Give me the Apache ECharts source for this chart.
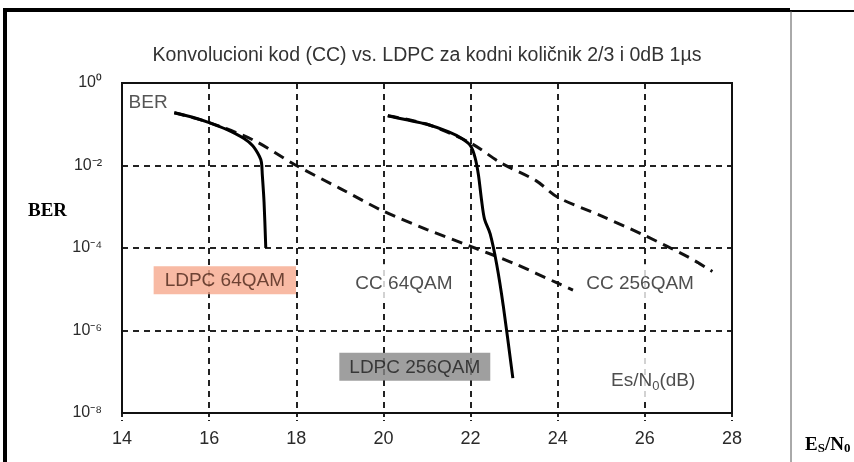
<!DOCTYPE html>
<html><head><meta charset="utf-8">
<script src="https://cdn.jsdelivr.net/npm/echarts@6/dist/echarts.min.js"></script>
<style>html,body{margin:0;padding:0;background:#fff}#c{width:854px;height:462px}</style>
</head><body><div id="c"></div>
<script>
// x ticks (Es/N0 dB)
const xTicks = [14, 16, 18, 20, 22, 24, 26, 28];
// exponents of BER ticks
const yExponents = [0, -2, -4, -6, -8];

// LDPC 64QAM (solid)
const ldpc64X = [15.2, 15.6, 16.0, 16.4, 16.8, 17.0, 17.15, 17.2, 17.22, 17.26, 17.3];
const ldpc64Y = [0.19, 0.15, 0.11, 0.075, 0.045, 0.030, 0.017, 0.012, 0.006, 0.0013, 0.0001];

// CC 64QAM (dashed)
const cc64X = [15.2, 16.0, 17.0, 18.0, 19.0, 20.0, 21.0, 22.0, 23.0, 24.0, 24.35];
const cc64Y = [0.19, 0.11, 0.042, 0.010, 0.0028, 0.00078, 0.00028, 0.00011, 0.000042, 0.000014, 0.0000095];

// LDPC 256QAM (solid)
const ldpc256X = [20.1, 20.5, 21.0, 21.5, 21.8, 22.0, 22.1, 22.18, 22.25, 22.32, 22.45, 22.6, 22.75, 22.97];
const ldpc256Y = [0.16, 0.13, 0.10, 0.065, 0.045, 0.030, 0.016, 0.006, 0.0015, 0.0005, 0.00022, 0.00004, 0.000004, 0.00000007];

// CC 256QAM (dashed)
const cc256X = [20.1, 21.0, 22.0, 22.7, 23.5, 24.0, 25.0, 26.0, 27.0, 27.55];
const cc256Y = [0.16, 0.10, 0.035, 0.0115, 0.0043, 0.0017, 0.0006, 0.0002, 0.00006, 0.000027];

// annotation labels [x, BER, text, style]
const notes = [
  [14.6, 0.33, 'BER', 'plain'],
  [16.36, 0.0000166, 'LDPC 64QAM', 'salmon'],
  [20.47, 0.0000141, 'CC 64QAM', 'white'],
  [25.89, 0.0000141, 'CC 256QAM', 'white'],
  [20.72, 0.000000132, 'LDPC 256QAM', 'gray'],
  [26.19, 0.000000063, '{a|Es/N}{s|0}{a|(dB)}', 'white']
];

const title = 'Konvolucioni kod (CC) vs. LDPC za kodni količnik 2/3 i 0dB 1µs';

const FONT = '"Liberation Sans", Arial, sans-serif';
const sup = {'0':'⁰','-':'⁻','2':'²','4':'⁴','6':'⁶','8':'⁸'};
function supText(e){ return String(e).split('').map(ch => sup[ch] || ch).join(''); }

const zip = (xs, ys) => xs.map((x, i) => [x, ys[i]]);

const noteStyles = {
  plain: {color: '#2a2a2a'},
  white: {color: '#222', backgroundColor: '#fff', padding: [10, 4, 9, 4]},
  salmon: {color: '#4a2418', backgroundColor: '#f6a98d', padding: [5, 11, 4, 11]},
  gray: {color: '#1e1e1e', backgroundColor: '#878787', padding: [5, 10, 4, 10]}
};

const chart = echarts.init(document.getElementById('c'));
chart.setOption({
  animation: false,
  backgroundColor: '#fff',
  title: {
    text: title, left: 'center', top: 41,
    textStyle: {fontFamily: FONT, fontSize: 19.5, fontWeight: 'normal', color: '#333'}
  },
  grid: {left: 122, right: 122, top: 83, bottom: 49},
  xAxis: {
    type: 'value', min: 14, max: 28, interval: 2, z: 0,
    axisLine: {show: true, onZero: false, lineStyle: {color: '#111', width: 2}},
    axisTick: {show: true, length: 8, lineStyle: {color: '#222', width: 2, type: [4, 3]}},
    axisLabel: {fontFamily: FONT, fontSize: 18, color: '#2a2a2a', margin: 17},
    splitLine: {show: true, lineStyle: {color: '#222', width: 2, type: [6, 5]}}
  },
  yAxis: {
    type: 'log', logBase: 10, min: 1e-8, max: 1, interval: 2, z: 0,
    axisLine: {show: true, lineStyle: {color: '#111', width: 2}},
    axisTick: {show: false},
    axisLabel: {
      fontFamily: FONT, fontSize: 16, color: '#2a2a2a', margin: 20,
      formatter: v => '10' + supText(Math.round(Math.log10(v)))
    },
    splitLine: {show: true, lineStyle: {color: '#222', width: 2, type: [6, 5]}}
  },
  graphic: [
    {type: 'rect', shape: {x: 122, y: 83, width: 610, height: 330}, style: {fill: 'none', stroke: '#111', lineWidth: 2}, z: 10},
    {type: 'line', shape: {x1: 5, y1: 10, x2: 790, y2: 10}, style: {stroke: '#000', lineWidth: 4}},
    {type: 'line', shape: {x1: 790, y1: 11, x2: 854, y2: 11}, style: {stroke: '#000', lineWidth: 2}},
    {type: 'line', shape: {x1: 5, y1: 8, x2: 5, y2: 462}, style: {stroke: '#000', lineWidth: 4}},
    {type: 'line', shape: {x1: 791, y1: 11, x2: 791, y2: 462}, style: {stroke: '#555', lineWidth: 1}},
    {type: 'text', left: 28, top: 202, style: {text: 'BER', fontFamily: '"Liberation Serif", "DejaVu Serif", serif', fontWeight: 'bold', fontSize: 19, fill: '#000'}},
    {type: 'text', left: 805, top: 436, style: {
      text: '{b|E}{s|S}{b|/N}{s|0}',
      rich: {
        b: {fontFamily: '"Liberation Serif", serif', fontWeight: 'bold', fontSize: 19, fill: '#000', verticalAlign: 'bottom'},
        s: {fontFamily: '"Liberation Serif", serif', fontWeight: 'bold', fontSize: 13, fill: '#000', verticalAlign: 'bottom', padding: [6, 0, 0, 0]}
      }
    }}
  ],
  series: [
    {type: 'line', data: zip(cc64X, cc64Y), symbol: 'none', smooth: 0.3, lineStyle: {color: '#111', width: 3, type: [11, 7]}, z: 3},
    {type: 'line', data: zip(cc256X, cc256Y), symbol: 'none', smooth: 0.3, lineStyle: {color: '#111', width: 3, type: [11, 7]}, z: 3},
    {type: 'line', data: zip(ldpc64X, ldpc64Y), symbol: 'none', smooth: 0.3, lineStyle: {color: '#000', width: 3}, z: 4},
    {type: 'line', data: zip(ldpc256X, ldpc256Y), symbol: 'none', smooth: 0.3, lineStyle: {color: '#000', width: 3}, z: 4},
    {
      type: 'scatter', symbolSize: 0, zlevel: 1, z: 6, itemStyle: {color: 'rgba(0,0,0,0)'},
      data: notes.map(n => ({
        value: [n[0], n[1]],
        label: Object.assign({
          show: true, position: 'inside', formatter: n[2],
          fontFamily: FONT, fontSize: 19,
          rich: {
            a: {fontFamily: FONT, fontSize: 19, color: '#222'},
            s: {fontFamily: FONT, fontSize: 13, color: '#222', padding: [12, 0, 0, 0]}
          }
        }, noteStyles[n[3]])
      }))
    }
  ]
});
</script></body></html>
